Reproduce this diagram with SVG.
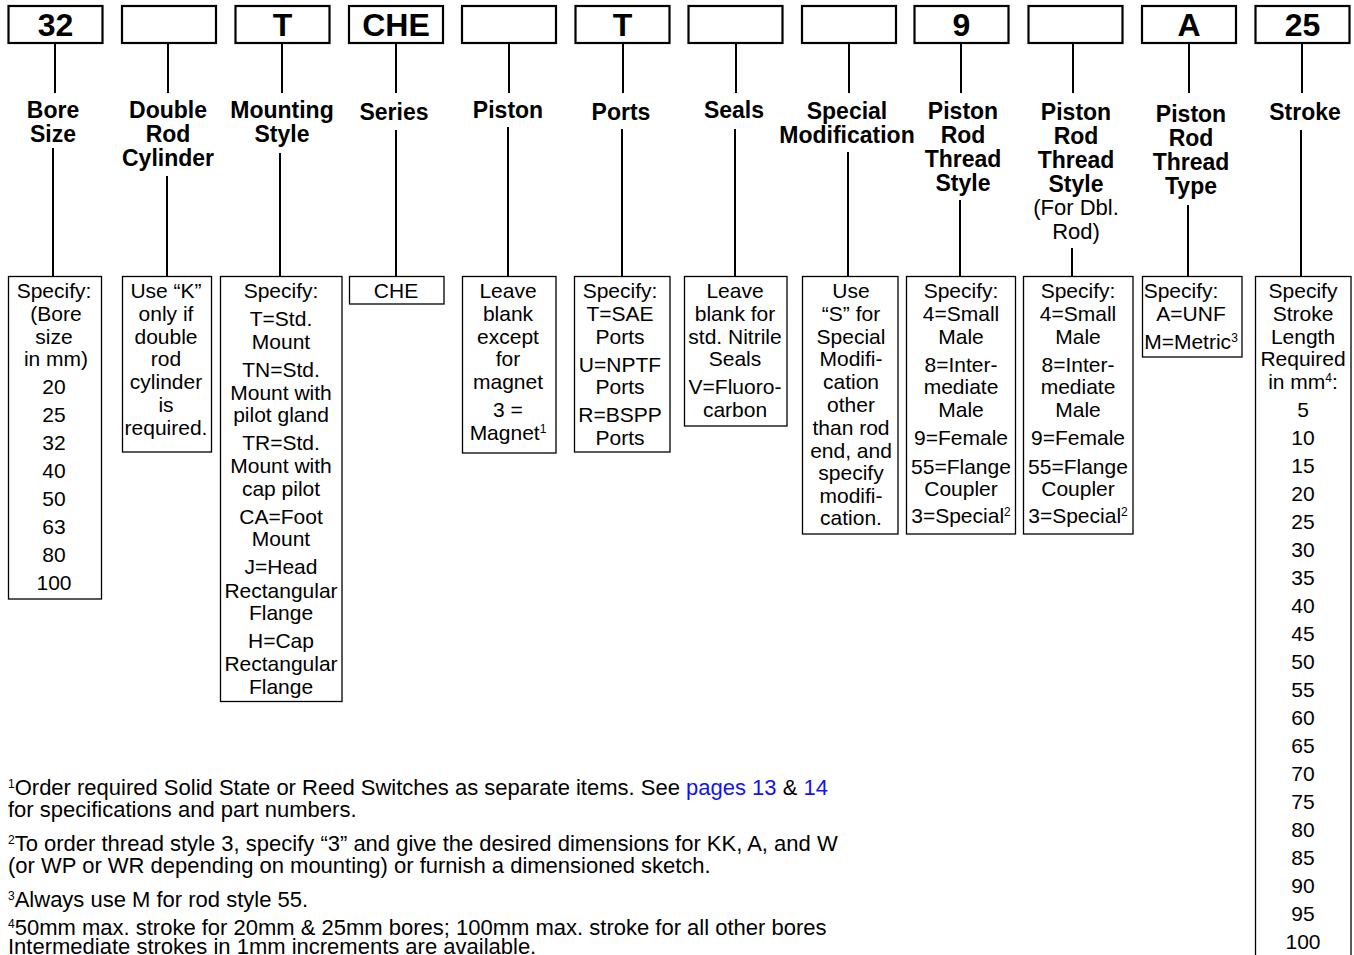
<svg xmlns="http://www.w3.org/2000/svg" width="1354" height="955" viewBox="0 0 1354 955">
<style>
.top{fill:#fff;stroke:#000;stroke-width:2.2}
.bot{fill:#fff;stroke:#000;stroke-width:1.3}
.code{font-family:"Liberation Sans",Arial,sans-serif;font-weight:bold;font-size:32px;text-anchor:middle;fill:#000}
.hd{font-family:"Liberation Sans",Arial,sans-serif;font-weight:bold;font-size:23px;text-anchor:middle;fill:#000}
.hr{font-family:"Liberation Sans",Arial,sans-serif;font-size:22px;text-anchor:middle;fill:#000}
.t{font-family:"Liberation Sans",Arial,sans-serif;font-size:21px;text-anchor:middle;fill:#000}
.fn{font-family:"Liberation Sans",Arial,sans-serif;font-size:22px;fill:#000}
.sup{font-size:12px}
.lnk{fill:#1414f0}
.cn{stroke:#000;stroke-width:2;fill:none}
</style>
<rect width="1354" height="955" fill="#fff"/>
<g id="connectors">
<path class="cn" d="M55 43V93M53 148V276M168 43V93M167 176V276M282 43V93M280 153V276M396 43V93M396 130V276M509 43V93M508 127V276M623 43V93M622 129V276M736 43V93M735 129V276M849 43V93M848 152V276M961 43V93M960 200V276M1073 43V93M1072 248V276M1189 43V93M1188 205V276M1302 43V93M1301 130V955"/>
</g>
<g id="bore-size">
<rect class="top" x="8.5" y="6" width="94" height="37"/>
<text class="code" x="55.5" y="36">32</text>
<text class="hd" x="53" y="118">Bore</text>
<text class="hd" x="53" y="142">Size</text>
<rect class="bot" x="8.5" y="276.5" width="93" height="322.5"/>
<text class="t" x="54"><tspan x="54" y="297.5">Specify:</tspan><tspan x="56" y="320.5">(Bore</tspan><tspan x="54" y="343.5">size</tspan><tspan x="56" y="365.5">in mm)</tspan><tspan x="54" y="393.5">20</tspan><tspan x="54" y="421.5">25</tspan><tspan x="54" y="449.5">32</tspan><tspan x="54" y="477.5">40</tspan><tspan x="54" y="505.5">50</tspan><tspan x="54" y="533.5">63</tspan><tspan x="54" y="561.5">80</tspan><tspan x="54" y="589.5">100</tspan></text>
</g>
<g id="double-rod">
<rect class="top" x="122" y="6" width="94" height="37"/>
<text class="hd" x="168" y="118">Double</text>
<text class="hd" x="168" y="142">Rod</text>
<text class="hd" x="168" y="166">Cylinder</text>
<rect class="bot" x="122.5" y="276.5" width="89" height="175.5"/>
<text class="t"><tspan x="166" y="297.5">Use “K”</tspan><tspan x="166" y="320.5">only if</tspan><tspan x="166" y="343.5">double</tspan><tspan x="166" y="365.5">rod</tspan><tspan x="166" y="388.5">cylinder</tspan><tspan x="166" y="411.5">is</tspan><tspan x="166" y="434.5">required.</tspan></text>
</g>
<g id="mounting-style">
<rect class="top" x="235.5" y="6" width="94" height="37"/>
<text class="code" x="282.5" y="36">T</text>
<text class="hd" x="282" y="118">Mounting</text>
<text class="hd" x="282" y="142">Style</text>
<rect class="bot" x="220.5" y="276.5" width="121.5" height="425"/>
<text class="t"><tspan x="281" y="297.5">Specify:</tspan><tspan x="281" y="325.5">T=Std.</tspan><tspan x="281" y="348.5">Mount</tspan><tspan x="281" y="376.5">TN=Std.</tspan><tspan x="281" y="399.5">Mount with</tspan><tspan x="281" y="421.5">pilot gland</tspan><tspan x="281" y="449.5">TR=Std.</tspan><tspan x="281" y="472.5">Mount with</tspan><tspan x="281" y="495.5">cap pilot</tspan><tspan x="281" y="523.5">CA=Foot</tspan><tspan x="281" y="545.5">Mount</tspan><tspan x="281" y="573.5">J=Head</tspan><tspan x="281" y="597.5">Rectangular</tspan><tspan x="281" y="619.5">Flange</tspan><tspan x="281" y="647.5">H=Cap</tspan><tspan x="281" y="670.5">Rectangular</tspan><tspan x="281" y="693.5">Flange</tspan></text>
</g>
<g id="series">
<rect class="top" x="349" y="6" width="94" height="37"/>
<text class="code" x="396" y="36">CHE</text>
<text class="hd" x="394" y="120">Series</text>
<rect class="bot" x="349.5" y="276.5" width="94.5" height="27.5"/>
<text class="t" x="396" y="297.5">CHE</text>
</g>
<g id="piston">
<rect class="top" x="462" y="6" width="94" height="37"/>
<text class="hd" x="508" y="118">Piston</text>
<rect class="bot" x="462.5" y="276.5" width="93.5" height="176.5"/>
<text class="t"><tspan x="508" y="297.5">Leave</tspan><tspan x="508" y="320.5">blank</tspan><tspan x="508" y="343.5">except</tspan><tspan x="508" y="365.5">for</tspan><tspan x="508" y="388.5">magnet</tspan><tspan x="508" y="416.5">3 =</tspan><tspan x="508" y="439.5">Magnet<tspan class="sup" baseline-shift="super">1</tspan></tspan></text>
</g>
<g id="ports">
<rect class="top" x="575.5" y="6" width="94" height="37"/>
<text class="code" x="622.5" y="36">T</text>
<text class="hd" x="621" y="120">Ports</text>
<rect class="bot" x="574.5" y="276.5" width="95.5" height="175.5"/>
<text class="t"><tspan x="620" y="297.5">Specify:</tspan><tspan x="620" y="320.5">T=SAE</tspan><tspan x="620" y="343.5">Ports</tspan><tspan x="620" y="371.5">U=NPTF</tspan><tspan x="620" y="393.5">Ports</tspan><tspan x="620" y="421.5">R=BSPP</tspan><tspan x="620" y="444.5">Ports</tspan></text>
</g>
<g id="seals">
<rect class="top" x="688.5" y="6" width="94" height="37"/>
<text class="hd" x="734" y="118">Seals</text>
<rect class="bot" x="684.5" y="276.5" width="102.5" height="149.5"/>
<text class="t"><tspan x="735" y="297.5">Leave</tspan><tspan x="735" y="320.5">blank for</tspan><tspan x="735" y="343.5">std. Nitrile</tspan><tspan x="735" y="365.5">Seals</tspan><tspan x="735" y="393.5">V=Fluoro-</tspan><tspan x="735" y="416.5">carbon</tspan></text>
</g>
<g id="special-modification">
<rect class="top" x="802" y="6" width="94" height="37"/>
<text class="hd" x="847" y="119">Special</text>
<text class="hd" x="847" y="143">Modification</text>
<rect class="bot" x="802.5" y="276.5" width="95.5" height="257.5"/>
<text class="t"><tspan x="851" y="297.5">Use</tspan><tspan x="851" y="320.5">“S” for</tspan><tspan x="851" y="343.5">Special</tspan><tspan x="851" y="365.5">Modifi-</tspan><tspan x="851" y="388.5">cation</tspan><tspan x="851" y="411.5">other</tspan><tspan x="851" y="434.5">than rod</tspan><tspan x="851" y="457.5">end, and</tspan><tspan x="851" y="479.5">specify</tspan><tspan x="851" y="502.5">modifi-</tspan><tspan x="851" y="524.5">cation.</tspan></text>
</g>
<g id="rod-thread-style">
<rect class="top" x="914.5" y="6" width="94" height="37"/>
<text class="code" x="961.5" y="36">9</text>
<text class="hd" x="963" y="119">Piston</text>
<text class="hd" x="963" y="143">Rod</text>
<text class="hd" x="963" y="167">Thread</text>
<text class="hd" x="963" y="191">Style</text>
<rect class="bot" x="906.5" y="276.5" width="109" height="257.5"/>
<text class="t"><tspan x="961" y="297.5">Specify:</tspan><tspan x="961" y="320.5">4=Small</tspan><tspan x="961" y="343.5">Male</tspan><tspan x="961" y="371.5">8=Inter-</tspan><tspan x="961" y="393.5">mediate</tspan><tspan x="961" y="416.5">Male</tspan><tspan x="961" y="444.5">9=Female</tspan><tspan x="961" y="473.5">55=Flange</tspan><tspan x="961" y="495.5">Coupler</tspan><tspan x="961" y="522.5">3=Special<tspan class="sup" baseline-shift="super">2</tspan></tspan></text>
</g>
<g id="rod-thread-style-dbl">
<rect class="top" x="1028.5" y="6" width="94" height="37"/>
<text class="hd" x="1076" y="120">Piston</text>
<text class="hd" x="1076" y="144">Rod</text>
<text class="hd" x="1076" y="168">Thread</text>
<text class="hd" x="1076" y="192">Style</text>
<text class="hr" x="1076" y="215">(For Dbl.</text>
<text class="hr" x="1076" y="239">Rod)</text>
<rect class="bot" x="1023.5" y="276.5" width="109.5" height="257.5"/>
<text class="t"><tspan x="1078" y="297.5">Specify:</tspan><tspan x="1078" y="320.5">4=Small</tspan><tspan x="1078" y="343.5">Male</tspan><tspan x="1078" y="371.5">8=Inter-</tspan><tspan x="1078" y="393.5">mediate</tspan><tspan x="1078" y="416.5">Male</tspan><tspan x="1078" y="444.5">9=Female</tspan><tspan x="1078" y="473.5">55=Flange</tspan><tspan x="1078" y="495.5">Coupler</tspan><tspan x="1078" y="522.5">3=Special<tspan class="sup" baseline-shift="super">2</tspan></tspan></text>
</g>
<g id="rod-thread-type">
<rect class="top" x="1142" y="6" width="94" height="37"/>
<text class="code" x="1189" y="36">A</text>
<text class="hd" x="1191" y="122">Piston</text>
<text class="hd" x="1191" y="146">Rod</text>
<text class="hd" x="1191" y="170">Thread</text>
<text class="hd" x="1191" y="194">Type</text>
<rect class="bot" x="1142.5" y="276.5" width="99.5" height="80.5"/>
<text class="t"><tspan x="1181" y="297.5">Specify:</tspan><tspan x="1191" y="320.5">A=UNF</tspan><tspan x="1191" y="348.5">M=Metric<tspan class="sup" baseline-shift="super">3</tspan></tspan></text>
</g>
<g id="stroke">
<rect class="top" x="1255.5" y="6" width="94" height="37"/>
<text class="code" x="1302.5" y="36">25</text>
<text class="hd" x="1305" y="120">Stroke</text>
<rect class="bot" x="1255.5" y="276.5" width="95.5" height="700"/>
<text class="t"><tspan x="1303" y="297.5">Specify</tspan><tspan x="1303" y="320.5">Stroke</tspan><tspan x="1303" y="343.5">Length</tspan><tspan x="1303" y="365.5">Required</tspan><tspan x="1303" y="388.5">in mm<tspan class="sup" baseline-shift="super">4</tspan>:</tspan><tspan x="1303" y="416.5">5</tspan><tspan x="1303" y="444.5">10</tspan><tspan x="1303" y="472.5">15</tspan><tspan x="1303" y="500.5">20</tspan><tspan x="1303" y="528.5">25</tspan><tspan x="1303" y="556.5">30</tspan><tspan x="1303" y="584.5">35</tspan><tspan x="1303" y="612.5">40</tspan><tspan x="1303" y="640.5">45</tspan><tspan x="1303" y="668.5">50</tspan><tspan x="1303" y="696.5">55</tspan><tspan x="1303" y="724.5">60</tspan><tspan x="1303" y="752.5">65</tspan><tspan x="1303" y="780.5">70</tspan><tspan x="1303" y="808.5">75</tspan><tspan x="1303" y="836.5">80</tspan><tspan x="1303" y="864.5">85</tspan><tspan x="1303" y="892.5">90</tspan><tspan x="1303" y="920.5">95</tspan><tspan x="1303" y="948.5">100</tspan></text>
</g>
<g id="footnotes">
<text class="fn" x="8" y="795"><tspan class="sup" baseline-shift="super">1</tspan>Order required Solid State or Reed Switches as separate items. See <tspan class="lnk">pages 13</tspan> &amp; <tspan class="lnk">14</tspan></text>
<text class="fn" x="8" y="817">for specifications and part numbers.</text>
<text class="fn" x="8" y="851"><tspan class="sup" baseline-shift="super">2</tspan>To order thread style 3, specify “3” and give the desired dimensions for KK, A, and W</text>
<text class="fn" x="8" y="873">(or WP or WR depending on mounting) or furnish a dimensioned sketch.</text>
<text class="fn" x="8" y="907"><tspan class="sup" baseline-shift="super">3</tspan>Always use M for rod style 55.</text>
<text class="fn" x="8" y="935"><tspan class="sup" baseline-shift="super">4</tspan>50mm max. stroke for 20mm &amp; 25mm bores; 100mm max. stroke for all other bores</text>
<text class="fn" x="8" y="954">Intermediate strokes in 1mm increments are available.</text>
</g>
</svg>
